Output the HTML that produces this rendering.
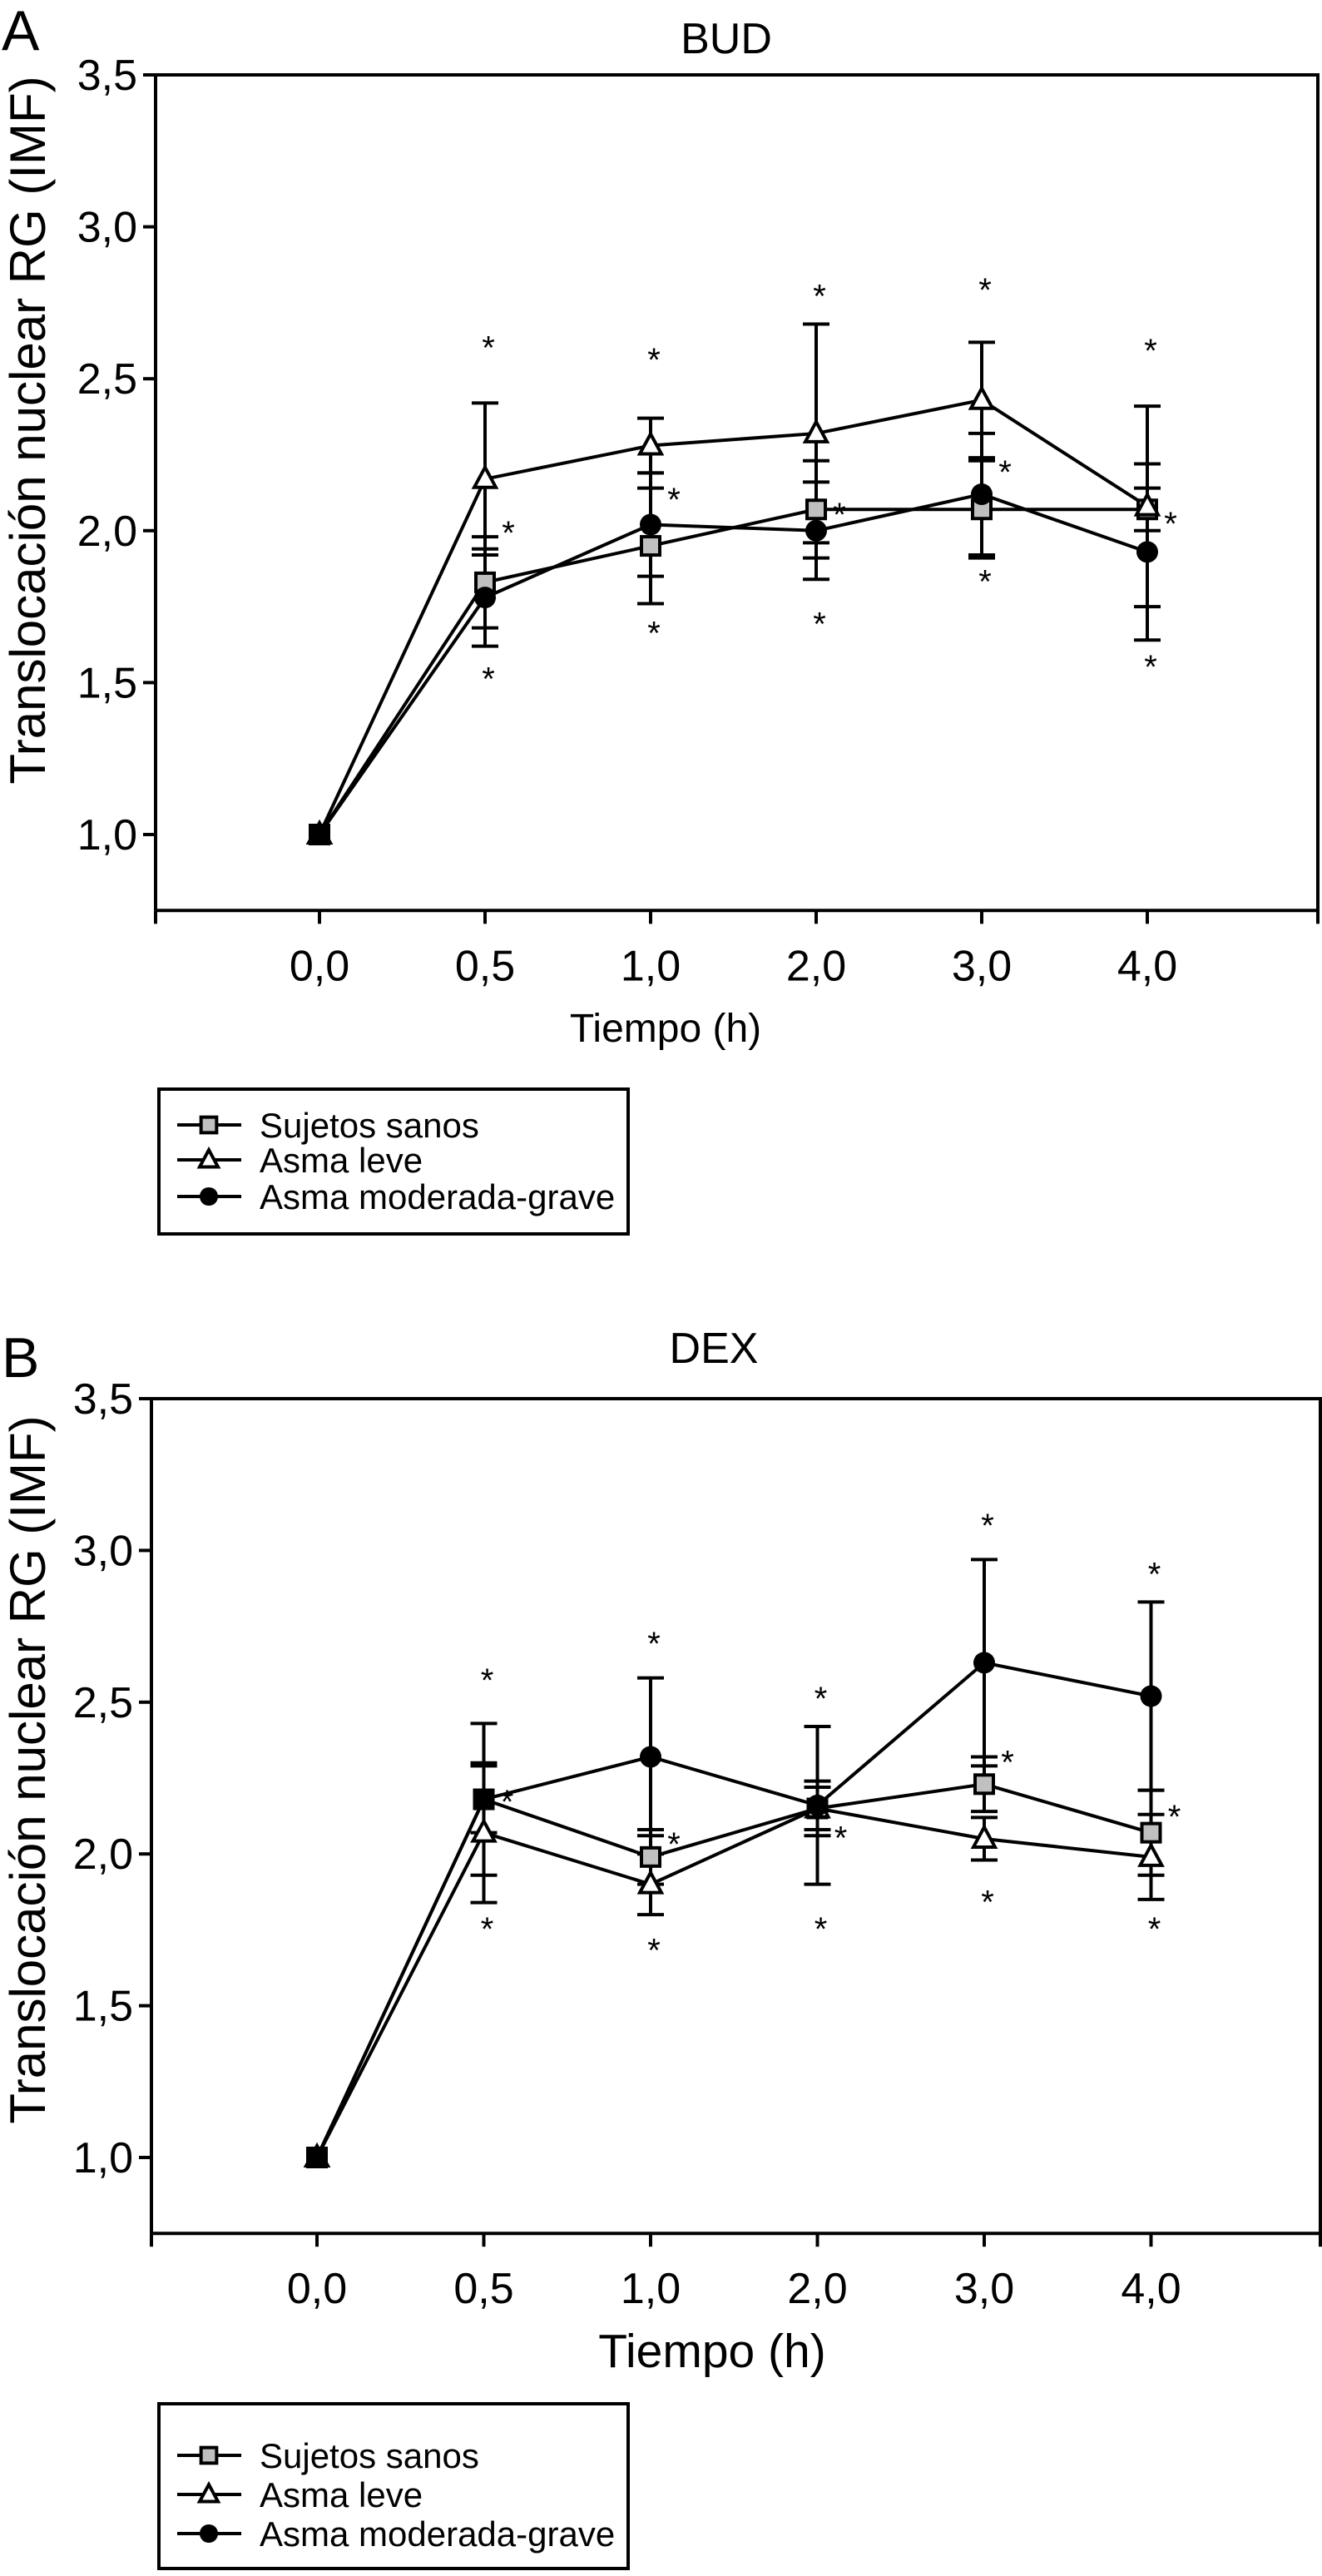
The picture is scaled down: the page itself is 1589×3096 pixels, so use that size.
<!DOCTYPE html>
<html><head><meta charset="utf-8">
<style>
html,body{margin:0;padding:0;background:#fff;}
svg{display:block;}
text{font-family:"Liberation Sans",Arial,sans-serif;fill:#000;}
</style></head>
<body>
<svg id="fig" width="1589" height="3096" viewBox="0 0 1589 3096" xmlns="http://www.w3.org/2000/svg"></svg>
<script>
// ---------- DATA ----------
const categories = ["0,0","0,5","1,0","2,0","3,0","4,0"];
const yTicks = [1.0,1.5,2.0,2.5,3.0,3.5];
const yTickLabels = ["1,0","1,5","2,0","2,5","3,0","3,5"];
const seriesNames = ["Sujetos sanos","Asma leve","Asma moderada-grave"];

// Panel A (BUD)
const budSanos = [1.0,1.83,1.95,2.07,2.07,2.07];
const budSanosErr = [0,0.15,0.19,0.16,0.16,0.07];
const budLeve = [1.0,2.17,2.28,2.32,2.43,2.08];
const budLeveErr = [0,0.25,0.09,0.36,0.19,0.33];
const budMod = [1.0,1.78,2.02,2.00,2.12,1.93];
const budModErr = [0,0.16,0.17,0.16,0.20,0.29];
const budStarTop = [null,2.62,2.58,2.79,2.81,2.61];
const budStarRight = [null,2.01,2.12,2.07,2.21,2.04];
const budStarBottom = [null,1.53,1.68,1.71,1.85,1.57];

// Panel B (DEX)
const dexSanos = [1.0,2.18,1.99,2.15,2.23,2.07];
const dexSanosErr = [0,0.11,0.09,0.09,0.09,0.14];
const dexLeve = [1.0,2.07,1.90,2.15,2.05,1.99];
const dexLeveErr = [0,0.23,0.10,0.07,0.07,0.14];
const dexMod = [1.0,2.18,2.32,2.16,2.63,2.52];
const dexModErr = [0,0.25,0.26,0.26,0.34,0.31];
const dexStarTop = [null,2.59,2.71,2.53,3.10,2.94];
const dexStarRight = [null,2.19,2.05,2.07,2.32,2.14];
const dexStarBottom = [null,1.77,1.70,1.77,1.86,1.77];

// ---------- DRAW ----------
const NS="http://www.w3.org/2000/svg";
const svg=document.getElementById('fig');
function mk(tag,attrs,parent){const e=document.createElementNS(NS,tag);for(const k in attrs)e.setAttribute(k,attrs[k]);(parent||svg).appendChild(e);return e;}

function panel(cfg){
  const g=mk('g',{});
  
  
  const y=v=>cfg.y1-(v-1)*(cfg.y1-cfg.y35)/2.5;
  const x=i=>cfg.x0+i*cfg.dx;
  const yBot=y(0.75);
  let t=mk('text',{x:2,y:cfg.letterY,'font-size':68},g);t.textContent=cfg.letter;
  
  t=mk('text',{x:cfg.titleX,y:cfg.titleY,'font-size':52,'text-anchor':'middle'},g);t.textContent=cfg.title;
  
  const frame=mk('path',{d:`M${cfg.left},${yBot} V${y(3.5)} H${cfg.right} V${yBot} H${cfg.left}`,fill:'none',stroke:'#000','stroke-width':4},g);
  
  yTicks.forEach((v,k)=>{
    mk('line',{x1:cfg.left-15,x2:cfg.left,y1:y(v),y2:y(v),stroke:'#000','stroke-width':4},g);
    const tl=mk('text',{x:cfg.left-22,y:y(v)+18,'font-size':52,'text-anchor':'end'},g);tl.textContent=yTickLabels[k];
    
  });
  for(let i=-1;i<=6;i++){
    const xx=i===-1?cfg.left:(i===6?cfg.right:x(i));
    mk('line',{x1:xx,x2:xx,y1:yBot,y2:yBot+16,stroke:'#000','stroke-width':4},g);
  }
  categories.forEach((c,i)=>{
    const tl=mk('text',{x:x(i),y:yBot+84,'font-size':52,'text-anchor':'middle'},g);tl.textContent=c;
    
  });
  t=mk('text',{x:cfg.xTitleX,y:cfg.xTitleY,'font-size':cfg.xTitleSize,'text-anchor':'middle'},g);t.textContent='Tiempo (h)';
  
  t=mk('text',{x:0,y:0,'font-size':60,'text-anchor':'middle',transform:`translate(54,${cfg.yTitleY}) rotate(-90)`},g);t.textContent='Translocación nuclear RG (IMF)';
  

  const series=[
    {vals:cfg.sanos,err:cfg.sanosErr,m:'square',name:'series-sujetos-sanos'},
    {vals:cfg.leve,err:cfg.leveErr,m:'triangle',name:'series-asma-leve'},
    {vals:cfg.mod,err:cfg.modErr,m:'circle',name:'series-asma-moderada-grave'}];
  series.forEach(s=>{
    s.vals.forEach((v,i)=>{
      if(!s.err[i])return;
      const eb=mk('g',{},g);
      
      mk('line',{x1:x(i),x2:x(i),y1:y(v-s.err[i]),y2:y(v+s.err[i]),stroke:'#000','stroke-width':4},eb);
      [v-s.err[i],v+s.err[i]].forEach(e=>mk('line',{x1:x(i)-16,x2:x(i)+16,y1:y(e),y2:y(e),stroke:'#000','stroke-width':4},eb));
    });
  });
  series.forEach(s=>{
    const l=mk('polyline',{points:s.vals.map((v,i)=>x(i)+','+y(v)).join(' '),fill:'none',stroke:'#000','stroke-width':4},g);
    
  });
  series.forEach(s=>{
    s.vals.forEach((v,i)=>{
      const el=marker(g,s.m,x(i),y(v),1);
      
      
    });
  });
  [[cfg.starTop,4],[cfg.starRight,28],[cfg.starBottom,4]].forEach(([arr,dx])=>{
    arr.forEach((v,i)=>{
      if(v==null)return;
      const st=mk('text',{x:x(i)+dx,y:y(v)+20,'font-size':40,'text-anchor':'middle'},g);st.textContent='*';
      
    });
  });
  const lg=mk('g',{},g);
  
  mk('rect',{x:191,y:cfg.legTop,width:564,height:cfg.legH,fill:'#fff',stroke:'#000','stroke-width':4},lg);
  series.forEach((s,k)=>{
    const ly=cfg.legRows[k];
    const le=mk('g',{},lg);
    
    mk('line',{x1:213,x2:290,y1:ly,y2:ly,stroke:'#000','stroke-width':4},le);
    marker(le,s.m,251,ly,0.85);
    const tt=mk('text',{x:312,y:ly+15,'font-size':42},le);tt.textContent=seriesNames[k];
  });
}
function marker(p,m,cx,cy,s){
  if(m==='square')return mk('rect',{x:cx-11*s,y:cy-11*s,width:22*s,height:22*s,fill:'#c0c0c0',stroke:'#000','stroke-width':4},p);
  if(m==='circle')return mk('circle',{cx:cx,cy:cy,r:13*s,fill:'#000'},p);
  return mk('path',{d:`M${cx},${cy-14*s} L${cx+13*s},${cy+10*s} L${cx-13*s},${cy+10*s} Z`,fill:'#fff',stroke:'#000','stroke-width':4},p);
}

panel({name:'chart-bud',letter:'A',letterY:60,title:'BUD',titleX:873,titleY:64,
  left:187,right:1584,x0:384,dx:199,y1:1003,y35:90,
  xTitleX:800,xTitleY:1252,xTitleSize:48,yTitleY:517,
  sanos:budSanos,sanosErr:budSanosErr,leve:budLeve,leveErr:budLeveErr,mod:budMod,modErr:budModErr,
  starTop:budStarTop,starRight:budStarRight,starBottom:budStarBottom,
  legTop:1309,legH:174,legRows:[1352,1394,1438]});
panel({name:'chart-dex',letter:'B',letterY:1655,title:'DEX',titleX:858,titleY:1638,
  left:182,right:1587,x0:381,dx:200.5,y1:2593,y35:1681,
  xTitleX:856,xTitleY:2845,xTitleSize:57,yTitleY:2127,
  sanos:dexSanos,sanosErr:dexSanosErr,leve:dexLeve,leveErr:dexLeveErr,mod:dexMod,modErr:dexModErr,
  starTop:dexStarTop,starRight:dexStarRight,starBottom:dexStarBottom,
  legTop:2889,legH:198,legRows:[2951,2998,3045]});
</script>
</body></html>
